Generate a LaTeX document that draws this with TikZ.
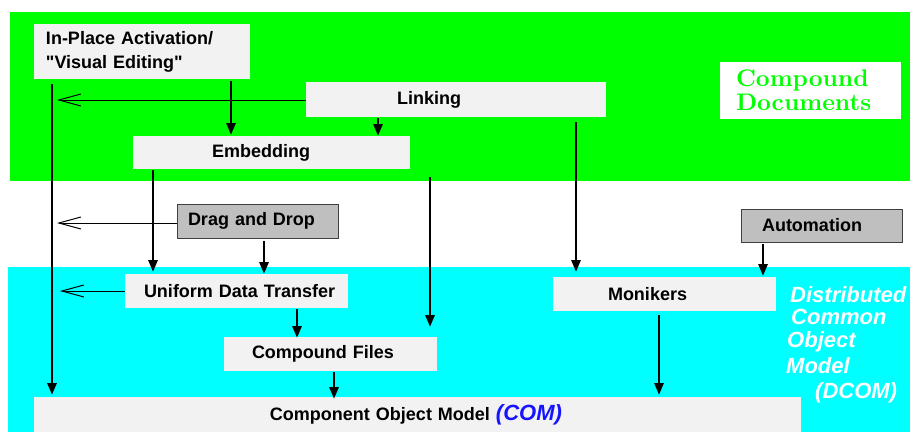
\documentclass[tikz,border=0pt]{standalone}
\usepackage{fontspec}
\newfontfamily\lab{Liberation Sans}
\newfontfamily\docfont{lmroman10-bold}[Extension=.otf]
\usetikzlibrary{arrows.meta}

\definecolor{docgreen}{RGB}{0,255,0}
\definecolor{comcyan}{RGB}{0,255,255}
\definecolor{panel}{RGB}{242,242,242}
\definecolor{feature}{RGB}{191,191,191}
\definecolor{comblue}{RGB}{20,20,255}

\begin{document}
\begin{tikzpicture}[x=1pt,y=-1pt,
  box/.style={fill=panel, inner sep=0pt, outer sep=0pt, anchor=north west, align=left,
    font=\lab\bfseries\fontsize{18}{24}\selectfont},
  grbox/.style={box, fill=feature, draw=black!75, line width=0.8pt},
  dcom/.style={anchor=base west, inner sep=0pt, text=white,
    font=\lab\bfseries\itshape\fontsize{22}{24}\selectfont},
  heavy/.style={line width=2.8pt, -{Triangle[length=12pt,width=9pt]}},
  light/.style={line width=1pt, -{Straight Barb[length=22pt,width=12pt]}},
]
\useasboundingbox (0,0) rectangle (910,432);
\fill[white] (0,0) rectangle (910,432);

% layer bands
\fill[docgreen] (10,12) rectangle (910,181);
\fill[comcyan] (8,267) rectangle (910,432);

% technology boxes
\node[box, text width=216pt, minimum height=55pt] (inplace) at (34,24)
  {\hspace*{12pt}In-Place Activation/\\\hspace*{12pt}"Visual Editing"};
\node[box, text width=300pt, minimum height=35pt] (linking) at (306,82)
  {\hspace*{91pt}Linking};
\node[box, text width=277pt, minimum height=33pt] (embed) at (133,136)
  {\hspace*{79pt}Embedding};
\node[grbox, text width=161pt, minimum height=34pt] (drag) at (177,204)
  {\hspace*{11pt}Drag and Drop};
\node[grbox, text width=161pt, minimum height=33pt] (auto) at (741,209)
  {\hspace*{21pt}Automation};
\node[box, text width=223pt, minimum height=34pt] (udt) at (125,274)
  {\hspace*{19pt}Uniform Data Transfer};
\node[box, text width=223pt, minimum height=34pt] (monikers) at (553,277)
  {\hspace*{55pt}Monikers};
\node[box, text width=213pt, minimum height=34pt] (cfiles) at (224,337)
  {\hspace*{28pt}Compound Files};
\node[box, text width=767pt, minimum height=35pt] (com) at (34,397)
  {\hspace*{236pt}Component Object Model {\itshape\fontsize{22}{24}\selectfont\color{comblue}(COM)}};

% band titles
\node[box, fill=white, text width=181pt, minimum height=57pt, text=docgreen,
  font=\docfont\fontsize{24}{24}\selectfont] (cdocs) at (720,62)
  {\hspace*{16pt}Compound\\\hspace*{16pt}Documents};
\node[dcom] (d1) at (790,302) {Distributed};
\node[dcom] (d2) at (791,324) {Common};
\node[dcom] (d3) at (787,347) {Object};
\node[dcom] (d4) at (786,373) {Model};
\node[dcom] (d5) at (815,398) {(DCOM)};

% ends of the side arrows on the left spine
\coordinate (spL) at (57,100);
\coordinate (spD) at (57,223);
\coordinate (spU) at (60,291);

% dependencies
\draw[heavy] ([xshift=18pt,yshift=-5pt]inplace.south west) -- ([xshift=18pt,yshift=2pt]com.north west);
\draw[light] (linking.west |- spL) -- (spL);
\draw[light] (drag.west |- spD) -- (spD);
\draw[light] (udt.west |- spU) -- (spU);

\draw[heavy] ([xshift=197pt,yshift=-2pt]inplace.south west) -- ([xshift=98pt,yshift=1pt]embed.north west);
\draw[heavy] ([xshift=72pt,yshift=-1pt]linking.south west) -- ([xshift=245pt]embed.north west);
\draw[heavy] ([xshift=20pt,yshift=-1pt]embed.south west) -- ([xshift=28pt,yshift=2pt]udt.north west);
\draw[heavy] ([xshift=20pt,yshift=-8pt]embed.south east) -- ([xshift=206pt,yshift=10pt]cfiles.north west);
\draw[heavy] ([xshift=270pt,yshift=-5pt]linking.south west) -- ([xshift=23pt,yshift=5pt]monikers.north west);
\draw[heavy] ([xshift=87pt,yshift=-3pt]drag.south west) -- ([xshift=139pt]udt.north west);
\draw[heavy] ([xshift=172pt,yshift=-1pt]udt.south west) -- ([xshift=73pt,yshift=-1pt]cfiles.north west);
\draw[heavy] ([xshift=110pt,yshift=-1pt]cfiles.south west) -- ([xshift=300pt,yshift=-2pt]com.north west);
\draw[heavy] ([xshift=106pt,yshift=-4pt]monikers.south west) -- ([xshift=625pt,yshift=2pt]com.north west);
\draw[heavy] ([xshift=22pt,yshift=-2pt]auto.south west) -- ([xshift=-13pt,yshift=1pt]monikers.north east);
\end{tikzpicture}
\end{document}
